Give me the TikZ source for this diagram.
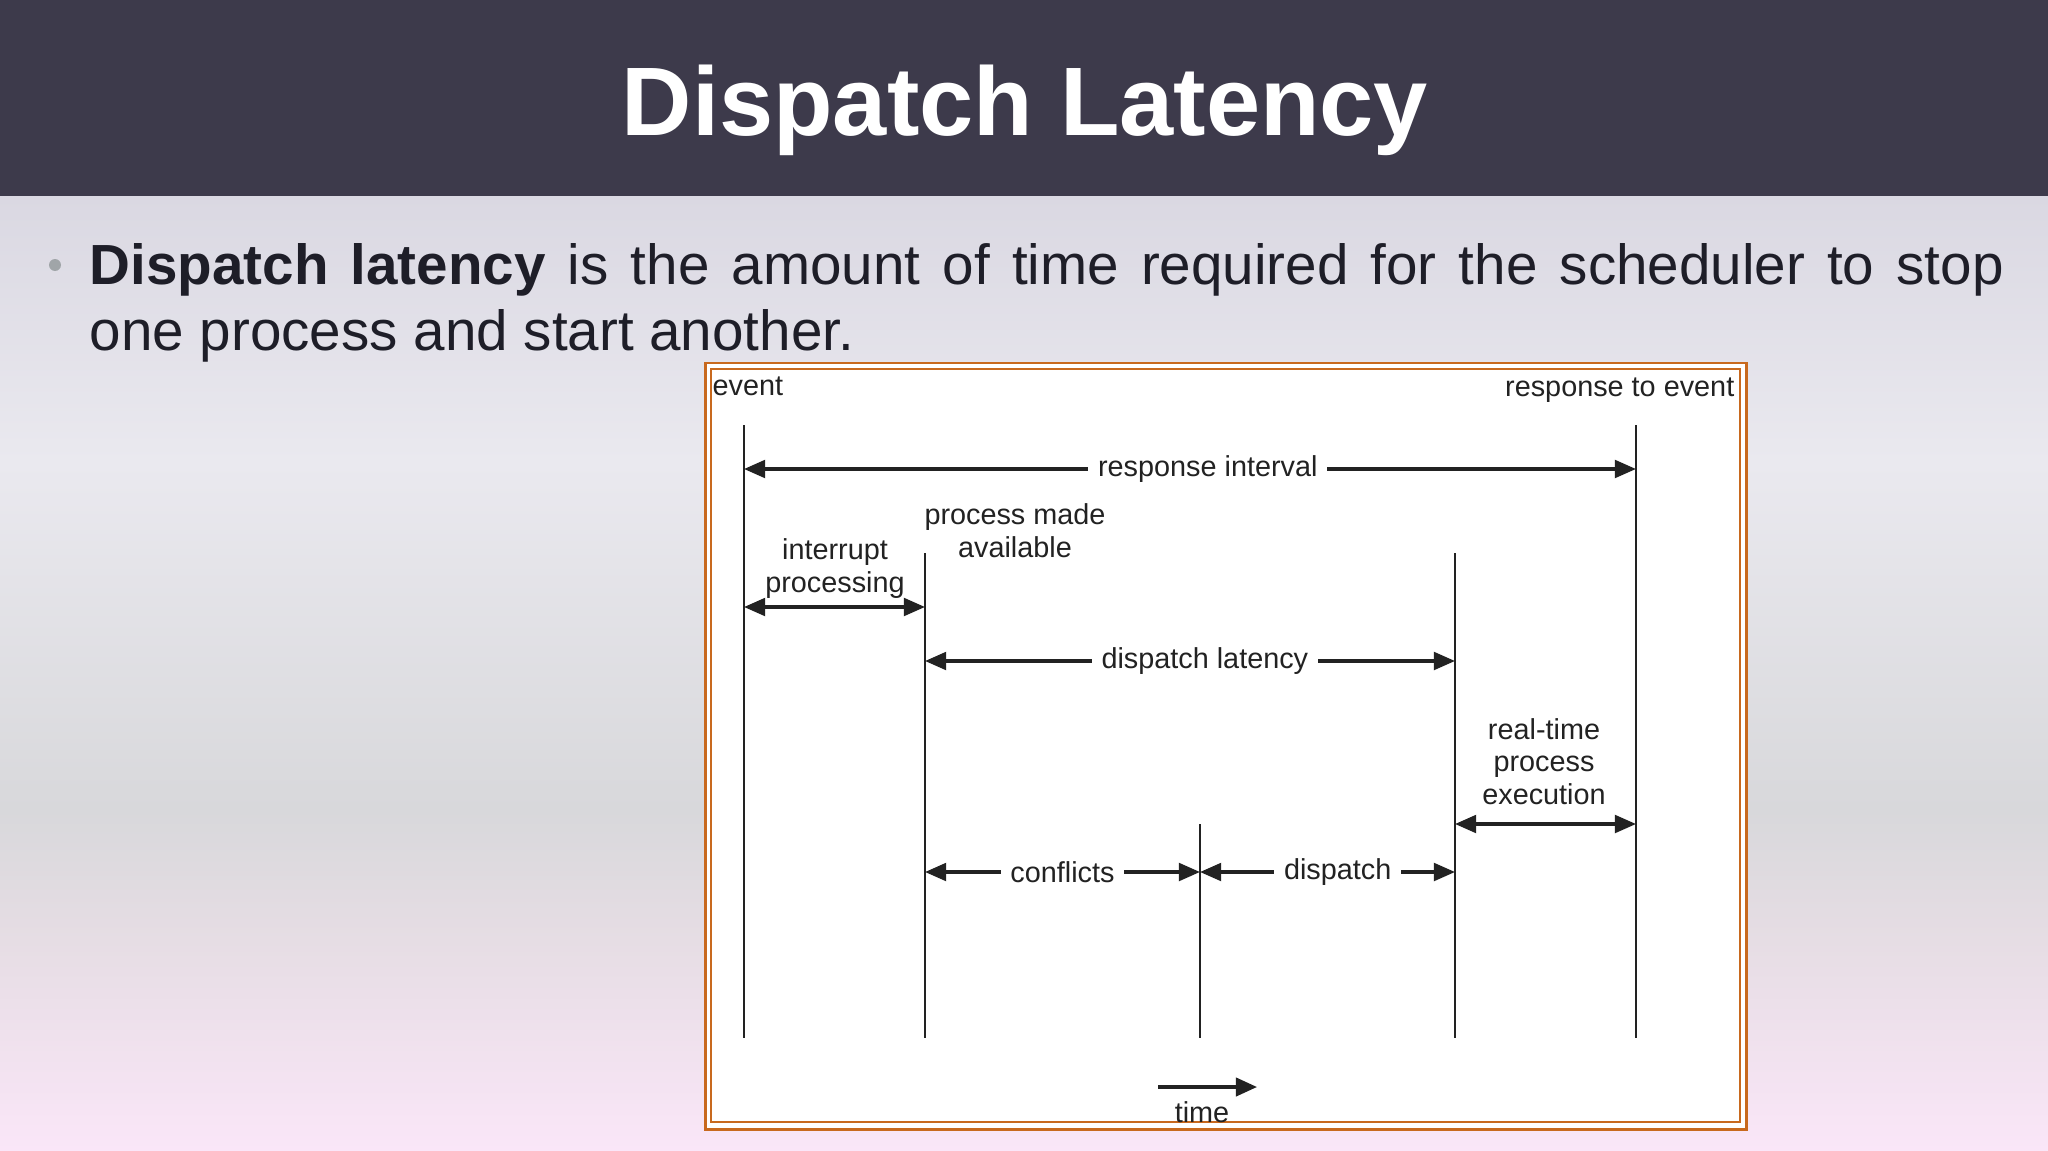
\documentclass[tikz,border=0pt]{standalone}
\usepackage{fontspec}
\setmainfont{Liberation Sans}
\usetikzlibrary{arrows.meta}
\definecolor{band}{RGB}{61,58,75}
\definecolor{ink}{RGB}{30,30,40}
\definecolor{fig}{RGB}{34,34,34}
\definecolor{frame}{RGB}{200,105,30}
\definecolor{dot}{RGB}{160,165,168}
\tikzset{vl/.style = {line width=0.65pt, fig},
         ar/.style = {line width=0.95pt, fig, arrows={Triangle[length=6pt, width=5pt]-Triangle[length=6pt, width=5pt]}},
         lb/.style = {font=\fontsize{8.2}{9.2}\selectfont, text=fig, inner sep=0pt},
         al/.style = {lb, fill=white, inner xsep=2.8pt, inner ysep=1pt}}

\begin{document}
\begin{tikzpicture}[x=0.1mm, y=-0.1mm]
    \useasboundingbox (0,0) rectangle (2048,1151);
    % slide background
    \fill[top color={rgb,255:red,218;green,216;blue,226}, bottom color={rgb,255:red,234;green,233;blue,239}] (0,196) rectangle (2048,462);
    \fill[top color={rgb,255:red,234;green,233;blue,239}, bottom color={rgb,255:red,216;green,216;blue,219}] (0,462) rectangle (2048,810);
    \fill[top color={rgb,255:red,216;green,216;blue,219}, bottom color={rgb,255:red,230;green,221;blue,228}] (0,810) rectangle (2048,940);
    \fill[top color={rgb,255:red,230;green,221;blue,228}, bottom color={rgb,255:red,250;green,230;blue,248}] (0,940) rectangle (2048,1151);
    \fill[band] (0,0) rectangle (2048,196);
    \node[anchor=base, inner sep=0pt, text=white, font=\fontsize{27.7}{30}\selectfont\bfseries] (ttl) at (1025,136) {Dispatch Latency};
    \fill[dot] (55,265) circle (6);
    \node[anchor=base west, inner sep=0pt, text=ink, text width=191.4mm, align=justify,
          font=\fontsize{16.1}{19.06}\selectfont] (txt) at (89,284)
          {\textbf{Dispatch latency} is the amount of time required for the scheduler to stop\linebreak one process and start another.};
    % figure frame
    \draw[frame, line width=0.85pt, fill=white] (705,363) rectangle (1746,1129);
    \draw[frame, line width=0.6pt] (711,369) rectangle (1740,1122);
    % time lines
    \coordinate (evt) at (744,425);  \coordinate (evb) at (744,1038);
    \coordinate (pmt) at (925,553);  \coordinate (pmb) at (925,1038);
    \coordinate (cft) at (1200,824); \coordinate (cfb) at (1200,1038);
    \coordinate (dpt) at (1455,553); \coordinate (dpb) at (1455,1038);
    \coordinate (rst) at (1636,425); \coordinate (rsb) at (1636,1038);
    \draw[vl] (evt) -- (evb);
    \draw[vl] (pmt) -- (pmb);
    \draw[vl] (cft) -- (cfb);
    \draw[vl] (dpt) -- (dpb);
    \draw[vl] (rst) -- (rsb);
    \node[lb, anchor=base west] (ev) at (712,395) {event};
    \node[lb, anchor=base east] (rs) at (1735,396) {response to event};
    \node[lb, anchor=base, align=center] (ip) at (835,592) {interrupt\\processing};
    \node[lb, anchor=base, align=center] (pm) at (1015,557) {process made\\available};
    \node[lb, anchor=base, align=center] (rt) at (1544,804) {real-time\\process\\execution};
    % intervals
    \draw[ar] (evt |- 0,469) -- node[al, pos=.52] {response interval} (rst |- 0,469);
    \draw[ar] (evt |- 0,607) -- (pmt |- 0,607);
    \draw[ar] (pmt |- 0,661) -- node[al, pos=.528] {dispatch latency} (dpt |- 0,661);
    \draw[ar] (dpt |- 0,824) -- (rst |- 0,824);
    \draw[ar] (pmt |- 0,872) -- node[al, pos=.5] {conflicts} (cft |- 0,872);
    \draw[ar] (cft |- 0,872) -- node[al, pos=.54] {dispatch} (dpt |- 0,872);
    \coordinate (tm0) at (1158,1087); \coordinate (tm1) at (1257,1087);
    \draw[ar, arrows={-Triangle[length=6pt, width=5.2pt]}] (tm0) -- (tm1);
    \node[lb, anchor=base] (tm) at (1202,1122) {time};
\end{tikzpicture}
\end{document}
